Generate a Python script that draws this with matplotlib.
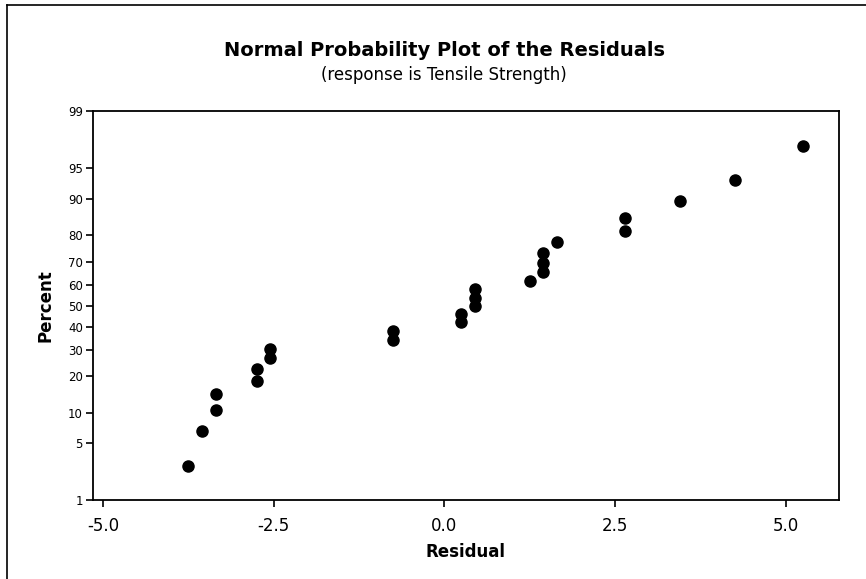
import numpy as np
import matplotlib.pyplot as plt
from matplotlib.lines import Line2D
from statistics import NormalDist

# --- data ---
residuals = [-3.75, -3.55, -3.35, -3.35, -2.75, -2.75, -2.55, -2.55, -0.75, -0.75,
             0.25, 0.25, 0.45, 0.45, 0.45, 1.25, 1.45, 1.45, 1.45, 1.65,
             2.65, 2.65, 3.45, 4.25, 5.25]
percents = [2.8, 6.7, 10.6, 14.6, 18.5, 22.4, 26.4, 30.3, 34.3, 38.2,
            42.1, 46.1, 50.0, 53.9, 57.9, 61.8, 65.7, 69.7, 73.6, 77.6,
            81.5, 85.4, 89.4, 93.3, 97.2]
y_ticks = [1, 5, 10, 20, 30, 40, 50, 60, 70, 80, 90, 95, 99]
x_ticks = [-5.0, -2.5, 0.0, 2.5, 5.0]

# --- normal probability scale for the y axis ---
nd = NormalDist()
_inv = np.vectorize(lambda v: nd.inv_cdf(v / 100.0), otypes=[float])
_cdf = np.vectorize(lambda v: nd.cdf(v) * 100.0, otypes=[float])


def pct_to_z(p):
    p = np.clip(np.asarray(p, dtype=float), 1e-6, 100 - 1e-6)
    return _inv(p)


def z_to_pct(z):
    return _cdf(np.asarray(z, dtype=float))


fig = plt.figure(figsize=(8.66, 5.79), dpi=100)
ax = fig.add_axes([0.107, 0.136, 0.862, 0.672])

ax.plot(residuals, percents, "o", color="black", ms=8, mec="black")

ax.set_yscale("function", functions=(pct_to_z, z_to_pct))
ax.set_ylim(1, 99)
ax.set_yticks(y_ticks)
ax.set_yticklabels([str(t) for t in y_ticks])
ax.minorticks_off()

ax.set_xlim(-5.15, 5.78)
ax.set_xticks(x_ticks)
ax.set_xticklabels([f"{t:.1f}" for t in x_ticks])

ax.tick_params(axis="y", direction="out", length=5, width=1.2, labelsize=8.5, pad=2)
ax.tick_params(axis="x", direction="out", length=5, width=1.2, labelsize=12, pad=7)
for s in ax.spines.values():
    s.set_linewidth(1.3)

ax.set_xlabel("Residual", fontsize=12, fontweight="bold", labelpad=6)
ax.set_ylabel("Percent", fontsize=12, fontweight="bold", labelpad=10)

fig.text(0.513, 0.912, "Normal Probability Plot of the Residuals",
         ha="center", va="center", fontsize=14, fontweight="bold")
fig.text(0.513, 0.871, "(response is Tensile Strength)",
         ha="center", va="center", fontsize=12)

# scanned frame edges (top and left)
fx = 7 / 866
fy = 1 - 5 / 579
fig.add_artist(Line2D([fx, fx], [0, fy], color="black", lw=1.2))
fig.add_artist(Line2D([fx, 1], [fy, fy], color="black", lw=1.2))

fig.savefig("out.png", dpi=100)
